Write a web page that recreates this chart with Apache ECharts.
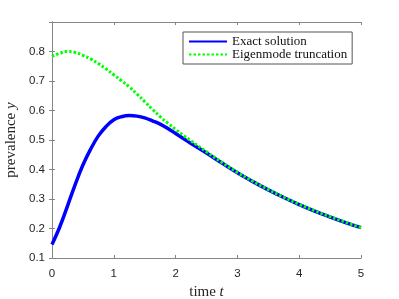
<!DOCTYPE html>
<html>
<head>
<meta charset="utf-8">
<script src="https://cdn.jsdelivr.net/npm/echarts@6/dist/echarts.min.js"></script>
<style>
html,body{margin:0;padding:0;background:#fff;}
#c{width:399px;height:299px;}
</style>
</head>
<body>
<div id="c"></div>
<script>
var tValues = [0, 0.125, 0.25, 0.375, 0.5, 0.625, 0.75, 0.875, 1.0, 1.125, 1.25, 1.375, 1.5, 1.625, 1.75, 1.875, 2.0, 2.125, 2.25, 2.5, 2.75, 3.0, 3.25, 3.5, 3.75, 4.0, 4.25, 4.5, 4.75, 5.0];
var exactValues = [0.146, 0.205, 0.276, 0.349, 0.415, 0.469, 0.514, 0.546, 0.569, 0.579, 0.583, 0.581, 0.575, 0.565, 0.554, 0.539, 0.522, 0.505, 0.488, 0.456, 0.422, 0.389, 0.359, 0.331, 0.305, 0.281, 0.259, 0.239, 0.220, 0.203];
var eigenValues = [0.783, 0.794, 0.800, 0.797, 0.787, 0.775, 0.759, 0.741, 0.721, 0.701, 0.680, 0.656, 0.630, 0.604, 0.579, 0.557, 0.536, 0.516, 0.497, 0.460, 0.424, 0.390, 0.360, 0.332, 0.306, 0.282, 0.260, 0.240, 0.221, 0.203];
var seriesNames = ['Exact solution', 'Eigenmode truncation'];
var xTicks = [0, 1, 2, 3, 4, 5];
var yTicks = [0.1, 0.2, 0.3, 0.4, 0.5, 0.6, 0.7, 0.8];

function pairs(xs, ys) { return xs.map(function (x, i) { return [x, ys[i]]; }); }

var axisColor = '#858585';
var textColor = '#262626';
var sans = 'Liberation Sans';
var serif = 'Liberation Serif';

var chart = echarts.init(document.getElementById('c'), null, {renderer: 'canvas'});
chart.setOption({
  animation: false,
  backgroundColor: '#fff',
  grid: {left: 52, right: 38, top: 22, bottom: 41, containLabel: false, outerBoundsMode: 'none'},
  legend: {
    orient: 'vertical',
    left: 183, top: 32,
    padding: [3, 5, 3, 5],
    itemGap: 0,
    itemWidth: 38, itemHeight: 14,
    itemStyle: {opacity: 0},
    backgroundColor: '#fff',
    borderColor: '#555',
    borderWidth: 1,
    borderRadius: 0,
    textStyle: {fontFamily: serif, fontSize: 13, color: '#111', padding: [0, 0, 0, 0]},
    data: seriesNames
  },
  xAxis: [{
    type: 'value', min: xTicks[0], max: xTicks[xTicks.length - 1], interval: 1,
    name: '{a|time }{b|t}', nameLocation: 'middle', nameGap: 20,
    nameTextStyle: {rich: {
      a: {fontFamily: serif, fontSize: 15, color: textColor},
      b: {fontFamily: serif, fontSize: 15, fontStyle: 'italic', color: textColor}
    }},
    axisLine: {show: true, lineStyle: {color: axisColor, width: 1}},
    axisTick: {show: true, inside: true, length: 3, lineStyle: {color: axisColor}},
    axisLabel: {fontFamily: sans, fontSize: 11.5, color: textColor, margin: 10},
    splitLine: {show: false}
  }, {
    type: 'value', position: 'top', min: xTicks[0], max: xTicks[xTicks.length - 1], interval: 1,
    axisLine: {show: true, lineStyle: {color: axisColor, width: 1}},
    axisTick: {show: true, inside: true, length: 3, lineStyle: {color: axisColor}},
    axisLabel: {show: false}, splitLine: {show: false}
  }],
  yAxis: [{
    type: 'value', min: 0.1, max: 0.9, interval: 0.1,
    name: '{a|prevalence }{b|y}', nameLocation: 'middle', nameGap: 32,
    nameTextStyle: {rich: {
      a: {fontFamily: serif, fontSize: 15, color: textColor},
      b: {fontFamily: serif, fontSize: 15, fontStyle: 'italic', color: textColor}
    }},
    axisLine: {show: true, lineStyle: {color: axisColor, width: 1}},
    axisTick: {show: true, inside: true, length: 3, lineStyle: {color: axisColor}},
    axisLabel: {fontFamily: sans, fontSize: 11.5, color: textColor, margin: 7,
      formatter: function (v) { var r = Math.round(v * 10) / 10; return yTicks.indexOf(r) >= 0 ? r.toFixed(1) : ''; }},
    splitLine: {show: false}
  }, {
    type: 'value', position: 'right', min: 0.1, max: 0.9, interval: 0.1,
    axisLine: {show: true, lineStyle: {color: axisColor, width: 1}},
    axisTick: {show: true, inside: true, length: 3, lineStyle: {color: axisColor}},
    axisLabel: {show: false}, splitLine: {show: false}
  }],
  series: [{
    name: seriesNames[0], type: 'line', smooth: 0.4, symbol: 'none',
    data: pairs(tValues, exactValues),
    lineStyle: {color: '#0000ff', width: 3.5},
    itemStyle: {color: '#0000ff'},
    z: 2
  }, {
    name: seriesNames[1], type: 'line', smooth: 0.4, symbol: 'none',
    data: pairs(tValues, eigenValues),
    lineStyle: {color: '#00ff00', width: 3, type: [2.5, 2], cap: 'butt'},
    itemStyle: {color: '#00ff00'},
    z: 3
  }]
});
</script>
</body>
</html>
